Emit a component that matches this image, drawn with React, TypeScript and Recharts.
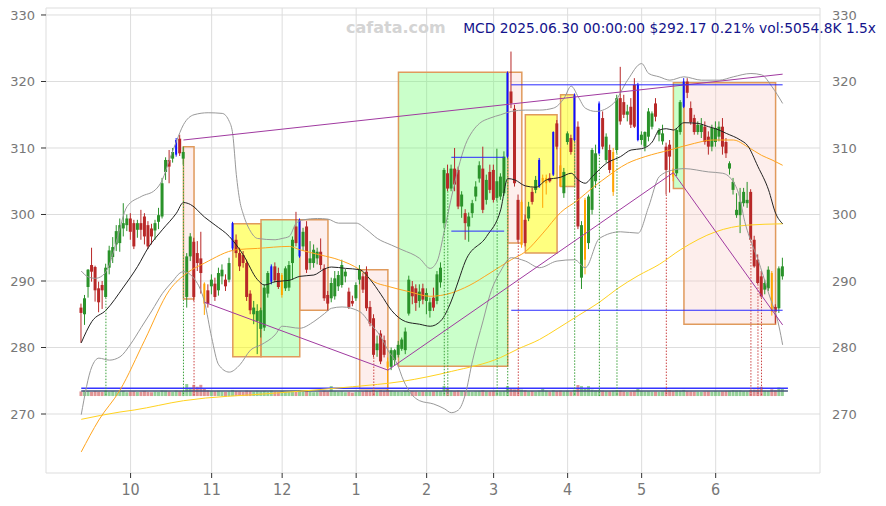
import React from 'react';
import {
  ComposedChart,
  Bar,
  Line,
  XAxis,
  YAxis,
  CartesianGrid,
  ReferenceArea,
  ReferenceLine,
  Cell,
} from 'recharts';

// daily bars, index 0 = 2024-09-11 ... 199 = 2025-06-30
const OPEN = [
  286.0, 285.0, 289.1, 292.4, 292.1, 288.9, 289.4, 287.6, 292.0, 293.6,
  295.5, 295.7, 297.9, 298.4, 299.4, 298.7, 297.7, 298.7, 299.7, 298.4,
  297.9, 297.6, 298.9, 299.7, 306.4, 308.2, 308.4, 309.0, 311.4, 308.4,
  287.6, 293.7, 295.9, 294.2, 293.4, 289.6, 288.6, 289.2, 289.6, 288.6,
  290.7, 290.2, 290.2, 294.9, 296.2, 294.2, 293.9, 292.7, 288.1, 285.0,
  284.0, 282.8, 283.0, 288.1, 289.9, 292.2, 291.2, 287.9, 288.9, 289.0,
  292.7, 298.2, 293.7, 295.2, 298.2, 292.7, 292.7, 293.4, 294.4, 291.9,
  287.9, 287.4, 287.7, 289.2, 289.4, 290.7, 288.4, 287.0, 287.4, 290.2,
  290.7, 291.4, 286.1, 284.4, 279.6, 282.1, 281.1, 277.9, 277.1, 278.1,
  278.9, 279.8, 279.6, 285.1, 289.2, 288.9, 287.0, 288.9, 287.0, 285.5,
  287.5, 287.0, 289.8, 298.7, 306.2, 303.9, 306.9, 306.7, 301.2, 300.2,
  298.2, 300.2, 302.7, 305.4, 306.9, 302.2, 306.4, 306.7, 302.5, 302.7,
  303.2, 308.7, 318.5, 315.9, 302.2, 295.4, 299.2, 299.4, 303.4, 303.7,
  304.2, 304.8, 304.7, 305.5, 306.0, 313.7, 307.4, 303.2, 310.9, 311.5,
  311.2, 313.2, 290.5, 293.2, 295.7, 300.7, 305.0, 309.2, 314.5, 308.2,
  309.7, 303.4, 309.7, 317.5, 316.9, 315.0, 316.2, 319.5, 311.2, 311.2,
  310.2, 311.7, 313.2, 316.7, 312.0, 311.0, 310.2, 310.5, 306.7, 306.2,
  312.4, 316.2, 320.0, 316.0, 314.5, 312.4, 312.4, 313.2, 311.7, 310.2,
  310.9, 311.7, 313.2, 310.9, 306.9, 303.7, 299.9, 299.9, 301.7, 301.7,
  303.4, 296.2, 293.2, 290.7, 288.7, 288.9, 291.2, 286.1, 285.9, 290.7,
];
const HIGH = [
  286.6, 287.9, 291.8, 295.0, 292.3, 289.9, 290.0, 292.6, 295.3, 296.6,
  298.4, 299.4, 301.7, 300.0, 300.2, 299.2, 299.2, 300.7, 300.2, 299.0,
  298.6, 299.2, 301.0, 305.5, 308.6, 309.7, 310.0, 311.5, 312.0, 310.2,
  294.2, 297.2, 296.5, 296.0, 297.4, 289.8, 289.5, 291.0, 290.5, 292.0,
  292.5, 291.0, 293.5, 298.9, 297.0, 295.0, 294.5, 293.2, 288.6, 287.0,
  286.5, 286.0, 289.5, 291.5, 292.5, 292.8, 292.0, 291.2, 292.2, 293.0,
  296.7, 300.4, 299.4, 298.0, 299.0, 296.0, 295.5, 295.0, 296.4, 292.5,
  288.5, 290.5, 291.5, 291.5, 293.2, 291.8, 289.0, 287.8, 289.8, 292.4,
  291.2, 292.2, 287.0, 285.0, 281.8, 282.6, 281.8, 278.5, 280.0, 279.8,
  281.0, 281.5, 283.0, 290.8, 290.0, 289.5, 289.5, 289.6, 288.9, 287.5,
  289.0, 291.5, 292.8, 307.0, 307.5, 307.5, 310.0, 307.2, 303.5, 300.8,
  300.3, 302.2, 305.0, 308.0, 310.2, 306.0, 307.5, 307.5, 309.9, 306.2,
  309.5, 321.5, 324.5, 316.5, 303.0, 302.2, 300.0, 301.9, 304.0, 305.8,
  308.5, 306.0, 306.0, 306.2, 312.5, 314.2, 310.0, 307.0, 312.5, 312.0,
  318.2, 314.0, 299.0, 302.5, 303.0, 310.0, 310.5, 317.0, 315.5, 312.2,
  310.5, 310.0, 318.0, 322.2, 318.0, 316.5, 317.5, 320.5, 319.8, 312.5,
  312.5, 316.0, 315.5, 317.5, 313.0, 313.5, 310.8, 311.2, 307.0, 313.0,
  317.2, 320.5, 320.5, 317.0, 315.0, 314.0, 314.5, 314.0, 312.5, 313.5,
  314.0, 314.0, 314.5, 311.5, 308.0, 305.5, 303.2, 304.0, 304.0, 304.9,
  303.8, 296.8, 294.0, 291.5, 290.2, 292.2, 291.5, 286.5, 292.2, 293.5,
];
const LOW = [
  280.7, 283.4, 287.5, 289.9, 286.9, 285.3, 285.8, 287.5, 291.0, 292.7,
  294.5, 294.4, 296.7, 297.5, 296.2, 294.8, 296.5, 296.2, 295.5, 294.8,
  295.5, 296.2, 297.8, 299.4, 305.2, 304.7, 307.8, 308.7, 308.8, 307.5,
  286.0, 293.0, 287.0, 291.5, 288.1, 284.9, 286.0, 288.0, 287.0, 287.8,
  289.5, 288.5, 289.8, 294.5, 293.5, 291.5, 292.0, 287.0, 285.0, 283.5,
  279.0, 281.5, 282.5, 287.5, 289.5, 289.8, 288.8, 287.5, 288.5, 288.5,
  290.2, 295.2, 293.5, 294.5, 291.2, 291.7, 292.0, 292.5, 291.7, 287.0,
  285.5, 286.8, 287.2, 288.5, 289.0, 289.8, 285.8, 286.2, 287.0, 289.5,
  288.2, 285.5, 283.2, 278.5, 278.6, 277.5, 278.5, 273.5, 276.6, 277.3,
  278.5, 279.5, 279.0, 284.8, 286.5, 285.5, 286.0, 286.5, 285.0, 284.5,
  285.5, 286.5, 289.0, 298.0, 303.5, 303.5, 303.5, 300.8, 299.5, 296.2,
  295.9, 299.5, 302.0, 304.8, 300.2, 301.5, 303.2, 301.8, 302.0, 302.2,
  302.8, 308.5, 316.0, 304.2, 295.8, 295.0, 295.2, 299.0, 301.5, 303.2,
  304.0, 301.0, 303.0, 304.8, 305.8, 309.8, 304.2, 302.5, 310.5, 309.0,
  311.0, 297.8, 288.8, 291.0, 294.8, 300.0, 304.0, 309.0, 309.8, 307.8,
  306.2, 302.8, 309.2, 313.5, 314.5, 314.0, 313.0, 313.0, 311.0, 310.5,
  309.5, 311.0, 312.8, 314.0, 311.0, 310.5, 303.0, 303.3, 305.0, 305.8,
  312.0, 316.0, 317.5, 313.5, 312.0, 312.0, 311.5, 310.5, 309.0, 309.5,
  310.2, 311.0, 309.0, 308.5, 306.0, 303.0, 299.5, 297.2, 301.2, 301.0,
  296.0, 292.0, 289.5, 287.5, 288.0, 288.5, 284.8, 283.6, 285.2, 290.2,
];
const CLOSE = [
  285.2, 287.4, 291.7, 291.4, 288.6, 286.8, 288.6, 292.0, 294.6, 295.1,
  297.5, 298.4, 298.7, 299.4, 297.4, 295.2, 298.7, 297.7, 296.7, 295.2,
  296.7, 298.7, 299.9, 304.7, 308.2, 307.2, 309.4, 311.2, 309.2, 309.4,
  293.7, 296.7, 287.6, 292.7, 291.2, 286.6, 286.6, 290.2, 287.6, 291.2,
  291.7, 289.2, 292.7, 298.7, 294.2, 292.2, 292.7, 287.6, 285.6, 286.0,
  285.5, 285.6, 289.0, 291.2, 292.2, 290.1, 289.1, 290.9, 291.9, 292.4,
  296.2, 295.7, 299.2, 297.4, 291.7, 293.4, 294.7, 294.4, 292.4, 287.4,
  286.6, 289.7, 290.4, 290.9, 292.4, 291.4, 286.1, 286.6, 289.4, 291.7,
  288.7, 285.9, 283.6, 278.9, 280.6, 277.9, 278.9, 277.0, 279.6, 279.6,
  280.4, 281.2, 282.4, 290.2, 287.7, 286.7, 288.4, 287.2, 288.2, 286.8,
  286.0, 291.0, 292.0, 306.7, 303.9, 306.9, 304.5, 301.2, 303.0, 298.7,
  299.7, 301.7, 304.2, 307.4, 300.7, 305.2, 303.7, 302.2, 305.0, 305.7,
  308.7, 321.3, 316.7, 304.7, 296.2, 301.9, 295.7, 301.2, 301.9, 305.2,
  308.2, 305.5, 305.5, 305.0, 312.4, 310.2, 304.2, 306.4, 312.2, 309.4,
  317.9, 298.2, 298.4, 302.2, 302.7, 309.7, 309.2, 316.7, 310.2, 311.7,
  306.7, 309.4, 317.5, 314.0, 315.0, 315.5, 313.5, 313.2, 319.5, 312.0,
  312.4, 315.5, 315.2, 314.7, 312.7, 312.2, 306.7, 308.7, 305.7, 312.7,
  316.9, 320.0, 318.3, 313.9, 312.4, 313.5, 313.5, 310.9, 310.2, 313.0,
  313.0, 313.2, 310.2, 309.2, 307.7, 304.9, 300.7, 301.9, 303.4, 302.2,
  296.2, 292.2, 289.7, 287.7, 289.7, 291.7, 285.4, 285.4, 291.9, 292.2,
];
// volume, millions
const VOLUME = [
  2.9, 3.4, 3.0, 2.6, 3.1, 2.8, 2.5, 3.3, 2.7, 3.0,
  2.6, 2.9, 3.2, 2.4, 2.8, 3.0, 2.5, 2.7, 3.1, 2.6,
  2.4, 2.8, 2.6, 3.5, 3.3, 2.9, 2.7, 3.4, 3.0, 3.2,
  7.5, 5.2, 7.0, 5.8, 7.0, 4.5, 3.6, 3.2, 3.0, 3.3,
  2.8, 2.6, 2.9, 3.8, 3.2, 3.0, 2.7, 3.4, 3.1, 2.9,
  3.3, 3.0, 3.2, 2.8, 3.4, 2.7, 2.6, 3.0, 2.5, 2.8,
  3.1, 2.9, 3.5, 2.7, 3.2, 2.6, 2.4, 2.5, 2.8, 3.3,
  2.9, 6.2, 3.0, 2.7, 2.9, 2.4, 2.6, 2.2, 2.5, 2.8,
  3.0, 3.4, 3.2, 3.8, 3.1, 3.6, 3.3, 3.9, 3.4, 3.0,
  2.9, 2.7, 3.1, 3.6, 3.0, 2.8, 2.6, 2.9, 2.7, 2.8,
  3.0, 3.2, 3.1, 6.2, 4.5, 3.4, 3.2, 3.5, 3.0, 3.1,
  2.9, 2.7, 3.0, 3.2, 3.6, 3.0, 2.9, 3.1, 3.3, 3.0,
  3.2, 6.2, 4.8, 4.2, 4.6, 4.0, 3.6, 3.0, 3.2, 2.9,
  3.4, 4.8, 3.3, 2.9, 3.6, 3.2, 3.4, 3.0, 3.3, 2.8,
  3.9, 6.9, 6.2, 5.0, 6.2, 4.0, 3.6, 3.8, 3.4, 3.1,
  3.0, 3.3, 3.6, 3.4, 2.9, 2.6, 2.8, 3.0, 4.8, 3.1,
  2.9, 3.0, 2.7, 2.8, 2.6, 2.9, 3.4, 3.6, 3.2, 3.5,
  3.4, 3.8, 3.0, 2.9, 2.8, 2.7, 2.6, 2.9, 3.0, 2.8,
  3.1, 2.9, 3.0, 3.2, 3.3, 3.6, 3.4, 3.5, 3.1, 3.0,
  3.8, 4.0, 3.9, 5.8, 3.4, 3.3, 4.2, 3.6, 5.4, 5.05,
];

const BLUE_BARS = [27, 43, 54, 62, 121, 130, 134, 140, 147, 158, 171];
const ORANGE_BARS = [35, 57, 87, 125, 131, 132, 136, 143, 151, 168, 196];
const SIGNAL_UP = [7, 29, 103, 104, 118, 121, 140, 147, 152];
const SIGNAL_DOWN = [32, 83, 124, 166, 190, 192, 193];

// indicator lines as [bar, price]
const MA20: [number, number][] = [
  [0, 280.7], [3, 283.9], [7, 285.6], [12, 289.1], [16, 292.2], [19, 295.0], [23, 297.7],
  [27, 300.2], [29, 301.8], [31, 301.5], [35, 299.6], [38, 298.4], [42, 296.7], [46, 293.9],
  [50, 290.2], [52, 289.4], [55, 289.9], [59, 290.1], [62, 290.7], [66, 290.9], [69, 291.8],
  [71, 292.1], [75, 291.9], [79, 291.7], [82, 290.2], [85, 288.0], [88, 285.6], [92, 283.9],
  [96, 283.5], [99, 283.2], [102, 284.0], [105, 287.0], [107, 290.0], [109, 293.0],
  [115, 296.7], [119, 300.7], [121, 305.4], [123, 305.2], [126, 304.3], [129, 304.1],
  [132, 305.2], [136, 305.6], [139, 306.2], [141, 305.2], [143, 304.7], [145, 305.7],
  [149, 307.7], [153, 308.7], [156, 309.7], [159, 309.9], [162, 310.9], [164, 312.7],
  [166, 312.9], [168, 312.7], [171, 313.8], [175, 313.7], [178, 313.2], [180, 312.9],
  [183, 312.2], [187, 311.2], [189, 310.4], [192, 307.2], [195, 303.7], [197, 300.2], [199, 298.6],
];
const BAND_UP: [number, number][] = [
  [0, 291.5], [2, 290.6], [4, 290.4], [6, 290.8], [8, 292.5], [10, 296.0], [13, 301.2],
  [17, 302.7], [21, 303.7], [23, 305.2], [25, 308.2], [27, 311.0], [29, 313.5], [32, 315.0],
  [36, 315.3], [40, 315.2], [42, 314.0], [43, 312.0], [44, 306.0], [45, 302.0], [46, 300.0],
  [48, 297.5], [50, 296.4], [55, 296.2], [57, 296.4], [59, 296.7], [61, 298.7], [63, 299.2],
  [67, 299.4], [70, 299.3], [73, 298.7], [78, 298.7], [81, 297.7], [84, 296.4], [88, 295.4],
  [91, 294.7], [96, 293.4], [99, 291.9], [101, 293.0], [103, 297.5], [105, 302.5],
  [107, 307.0], [109, 310.5], [111, 312.5], [113, 313.7], [116, 314.5], [119, 315.0],
  [122, 315.5], [126, 315.7], [130, 315.7], [134, 316.0], [137, 317.5], [139, 319.3],
  [141, 317.7], [143, 316.0], [146, 315.5], [151, 316.7], [155, 320.2], [159, 322.7],
  [161, 321.2], [164, 320.7], [167, 320.2], [171, 320.7], [176, 320.2], [181, 320.2],
  [185, 320.7], [190, 321.2], [193, 321.0], [196, 319.2], [199, 316.7],
];
const BAND_LO: [number, number][] = [
  [0, 269.9], [3, 277.1], [5, 278.4], [8, 278.1], [11, 278.6], [14, 280.5], [17, 283.0],
  [20, 285.5], [23, 288.1], [26, 290.0], [28, 291.2], [29, 291.4], [33, 289.6], [35, 286.8],
  [37, 281.5], [39, 277.4], [42, 276.3], [45, 277.4], [48, 279.6], [51, 280.4], [55, 281.9],
  [57, 283.2], [62, 282.9], [66, 283.9], [69, 285.1], [71, 285.9], [74, 286.1], [79, 285.4],
  [82, 283.6], [85, 281.6], [87, 279.6], [90, 277.1], [91, 275.6], [93, 273.5], [96, 272.0],
  [100, 271.5], [103, 270.8], [105, 270.2], [107, 270.6], [109, 273.0], [111, 278.0],
  [114, 284.0], [116, 288.0], [119, 291.5], [122, 293.5], [126, 293.0], [130, 292.0],
  [135, 293.0], [140, 293.2], [143, 292.0], [147, 296.4], [153, 297.4], [158, 297.2],
  [161, 301.2], [164, 305.7], [168, 306.7], [171, 306.9], [178, 306.4], [182, 306.2],
  [185, 304.9], [187, 302.2], [188, 299.5], [190, 296.0], [192, 293.2], [195, 288.2],
  [198, 283.1], [199, 280.4],
];
const MA50: [number, number][] = [
  [0, 264.3], [5, 269.1], [11, 273.6], [18, 281.1], [25, 288.6], [30, 291.2], [35, 292.7],
  [44, 294.7], [50, 294.9], [59, 295.2], [62, 294.7], [68, 293.9], [73, 293.2], [79, 291.7],
  [83, 289.9], [87, 289.2], [93, 288.4], [99, 287.7], [105, 288.2], [110, 289.3],
  [116, 291.2], [122, 293.2], [126, 294.4], [131, 297.2], [136, 300.3], [141, 302.2],
  [145, 304.0], [148, 305.2], [155, 307.7], [160, 308.7], [167, 309.7], [174, 310.7],
  [179, 311.2], [185, 311.2], [189, 310.2], [193, 308.9], [196, 308.2], [199, 307.4],
];
const MA200: [number, number][] = [
  [0, 269.2], [11, 270.3], [15, 270.6], [29, 272.0], [54, 273.1], [77, 274.1], [91, 274.9],
  [105, 276.4], [119, 278.5], [124, 279.8], [130, 281.2], [135, 282.8], [141, 284.8],
  [147, 286.8], [152, 288.8], [158, 290.8], [164, 292.5], [170, 294.7], [180, 297.4],
  [189, 298.4], [199, 298.6],
];

const BOXES = [
  { x1: 29, x2: 32, top: 310.2, bottom: 287.3, kind: 'pink' },
  { x1: 43, x2: 51, top: 298.6, bottom: 278.6, kind: 'yellow' },
  { x1: 51, x2: 62, top: 299.2, bottom: 278.6, kind: 'green' },
  { x1: 62, x2: 70, top: 299.2, bottom: 285.6, kind: 'pink' },
  { x1: 79, x2: 87, top: 291.7, bottom: 273.8, kind: 'pink' },
  { x1: 90, x2: 121, top: 321.4, bottom: 277.2, kind: 'green' },
  { x1: 121, x2: 125, top: 321.4, bottom: 295.7, kind: 'pink' },
  { x1: 126, x2: 135, top: 315.0, bottom: 294.2, kind: 'yellow' },
  { x1: 136, x2: 140, top: 318.0, bottom: 304.2, kind: 'yellow' },
  { x1: 168, x2: 171, top: 319.8, bottom: 303.9, kind: 'green' },
  { x1: 171, x2: 197, top: 319.8, bottom: 283.5, kind: 'pink' },
];
const TREND_LINES = [
  { a: 29, pa: 311.2, b: 199, pb: 321.1 },
  { a: 35, pa: 286.8, b: 87, pb: 276.6 },
  { a: 87, pa: 276.6, b: 168, pb: 306.3 },
  { a: 168, pa: 306.3, b: 199, pb: 283.4 },
];
const LEVELS = [
  { a: 122, b: 199, price: 319.5 },
  { a: 122, b: 199, price: 285.6 },
  { a: 105, b: 120, price: 308.6 },
  { a: 105, b: 120, price: 297.5 },
];
const VOL_LINES = [4.8, 3.1];

const MONTH_TICKS = [14, 37, 57, 78, 98, 117, 138, 159, 180];
const MONTH_LABELS = ['10', '11', '12', '1', '2', '3', '4', '5', '6'];
const PRICE_TICKS = [270, 280, 290, 300, 310, 320, 330];
const TITLE = 'MCD 2025.06.30 00:00:00 $292.17 0.21% vol:5054.8K 1.5x';

const GREEN = '#2a922a';
const RED = '#b82828';
const BLUE = '#1010ff';
const ORANGE = '#ffa500';
const BOX_FILL: Record<string, [string, number]> = {
  pink: ['#f8c8c0', 0.3],
  green: ['#66ff66', 0.35],
  yellow: ['#ffff00', 0.5],
};
const DOT_END = 272.7;

const rows: any[] = OPEN.map((o, i) => ({
  i,
  o,
  h: HIGH[i],
  l: LOW[i],
  c: CLOSE[i],
  range: [LOW[i], HIGH[i]],
  vol: VOLUME[i],
}));
const put = (series: [number, number][], key: string) =>
  series.forEach(([i, v]) => {
    rows[i][key] = v;
  });
put(MA20, 'ma20');
put(BAND_UP, 'bu');
put(BAND_LO, 'bl');
put(MA50, 'ma50');
put(MA200, 'ma200');

const blueSet = new Set(BLUE_BARS);
const orangeSet = new Set(ORANGE_BARS);

function Candle(props: any) {
  const { x, y, width, height, payload } = props;
  if (!payload || height == null) return null;
  const { o, h, l, c, i } = payload;
  const top = Math.min(y, y + height);
  const k = Math.abs(height) / (h - l);
  const py = (p: number) => top + (h - p) * k;
  const cx = x + width / 2;
  const special = blueSet.has(i) || orangeSet.has(i);
  const color = blueSet.has(i) ? BLUE : orangeSet.has(i) ? ORANGE : c >= o ? GREEN : RED;
  const bt = py(Math.max(o, c));
  const bb = py(Math.min(o, c));
  const bw = special ? 2 : 3;
  return (
    <g>
      <line x1={cx} x2={cx} y1={top} y2={top + Math.abs(height)} stroke={color} strokeWidth={1} />
      <rect x={cx - bw / 2} y={bt} width={bw} height={Math.max(1, bb - bt)} fill={color} />
    </g>
  );
}

const axisFont = { fill: '#777', fontSize: 13, fontFamily: 'DejaVu Sans, sans-serif' };

export default function App() {
  return (
    <div
      style={{
        position: 'absolute',
        left: 0,
        top: 0,
        width: 886,
        height: 506,
        background: '#fff',
        fontFamily: 'DejaVu Sans, sans-serif',
      }}
    >
      <ComposedChart width={886} height={506} data={rows} margin={{ top: 8, right: 0, bottom: 0, left: 0 }}>
        <CartesianGrid stroke="#dddddd" />
        <XAxis
          dataKey="i"
          type="number"
          domain={[-10, 209.6]}
          allowDataOverflow
          ticks={MONTH_TICKS}
          tickFormatter={(v: number) => MONTH_LABELS[MONTH_TICKS.indexOf(v)]}
          height={33}
          axisLine={false}
          tickSize={5}
          tickMargin={6}
          tickLine={{ stroke: '#333' }}
          tick={{
            fill: '#777',
            fontSize: 16,
            fontFamily: "'Liberation Sans Narrow', 'DejaVu Sans Condensed', 'DejaVu Sans', sans-serif",
          }}
        />
        <XAxis xAxisId="v" dataKey="i" type="number" domain={[-10, 209.6]} allowDataOverflow hide />
        <YAxis
          domain={[261.13, 331.05]}
          allowDataOverflow
          ticks={PRICE_TICKS}
          width={46}
          axisLine={false}
          tickSize={5}
          tickMargin={6}
          tickLine={{ stroke: '#333' }}
          tick={axisFont}
        />
        <YAxis
          yAxisId="r"
          orientation="right"
          domain={[261.13, 331.05]}
          allowDataOverflow
          ticks={PRICE_TICKS}
          width={66}
          axisLine={false}
          tickLine={false}
          tickSize={6}
          tickMargin={6}
          tick={axisFont}
        />
        <YAxis yAxisId="vol" domain={[-48.1, 242.5]} allowDataOverflow hide />

        {BOXES.map((b, k) => (
          <ReferenceArea
            key={'box' + k}
            x1={b.x1}
            x2={b.x2}
            y1={b.bottom}
            y2={b.top}
            fill={BOX_FILL[b.kind][0]}
            fillOpacity={BOX_FILL[b.kind][1]}
            stroke="#e09a5c"
            strokeWidth={1.5}
            ifOverflow="visible"
          />
        ))}

        <Bar xAxisId="v" yAxisId="vol" dataKey="vol" barSize={3} isAnimationActive={false}>
          {rows.map((r) => (
            <Cell key={'v' + r.i} fill={r.c >= r.o ? '#4caf50' : '#cc4c4c'} fillOpacity={0.6} />
          ))}
        </Bar>
        {VOL_LINES.map((v, k) => (
          <ReferenceLine
            key={'vl' + k}
            xAxisId="v"
            yAxisId="vol"
            segment={[{ x: 0, y: v }, { x: 200.5, y: v }]}
            stroke={k === 0 ? '#3535ff' : '#44557a'}
            strokeWidth={1.5}
            ifOverflow="visible"
          />
        ))}

        <Line dataKey="ma200" stroke="#ffd21f" strokeWidth={1} dot={false} connectNulls type="monotone" isAnimationActive={false} />
        <Line dataKey="ma50" stroke="#ffa51f" strokeWidth={1} dot={false} connectNulls type="monotone" isAnimationActive={false} />
        <Line dataKey="bu" stroke="#999" strokeWidth={1} dot={false} connectNulls type="monotone" isAnimationActive={false} />
        <Line dataKey="bl" stroke="#999" strokeWidth={1} dot={false} connectNulls type="monotone" isAnimationActive={false} />
        <Line dataKey="ma20" stroke="#222" strokeWidth={1} dot={false} connectNulls type="monotone" isAnimationActive={false} />

        {SIGNAL_UP.map((i) => (
          <ReferenceLine
            key={'su' + i}
            segment={[{ x: i, y: LOW[i] }, { x: i, y: DOT_END }]}
            stroke="#3aa03a"
            strokeDasharray="1.5 1.5"
            strokeWidth={1}
          />
        ))}
        {SIGNAL_DOWN.map((i) => (
          <ReferenceLine
            key={'sd' + i}
            segment={[{ x: i, y: LOW[i] }, { x: i, y: DOT_END }]}
            stroke="#cc4444"
            strokeDasharray="1.5 1.5"
            strokeWidth={1}
          />
        ))}

        <Bar dataKey="range" barSize={3} shape={<Candle />} isAnimationActive={false} />

        {TREND_LINES.map((t, k) => (
          <ReferenceLine
            key={'tl' + k}
            segment={[{ x: t.a, y: t.pa }, { x: t.b, y: t.pb }]}
            stroke="#a03aa0"
            strokeWidth={1}
          />
        ))}
        {LEVELS.map((lv, k) => (
          <ReferenceLine
            key={'lv' + k}
            segment={[{ x: lv.a, y: lv.price }, { x: lv.b, y: lv.price }]}
            stroke="#2a2aff"
            strokeWidth={1}
          />
        ))}
      </ComposedChart>
      <div
        style={{
          position: 'absolute',
          left: 346,
          top: 19,
          fontSize: 16,
          fontWeight: 'bold',
          color: '#d4d4d4',
          lineHeight: '17px',
        }}
      >
        cafata.com
      </div>
      <div
        style={{
          position: 'absolute',
          right: 10,
          top: 21,
          fontSize: 13.8,
          color: '#14148c',
          lineHeight: '14px',
          whiteSpace: 'nowrap',
        }}
      >
        {TITLE}
      </div>
    </div>
  );
}
